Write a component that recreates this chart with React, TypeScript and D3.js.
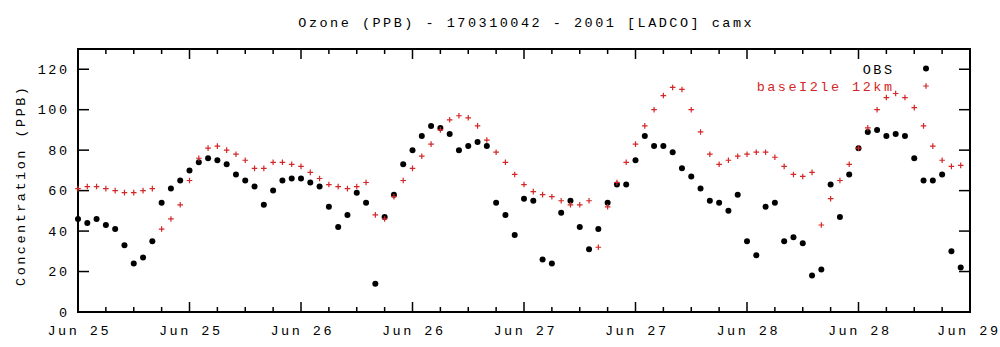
import React from "react";
import * as d3 from "d3";

const title = "Ozone (PPB) - 170310042 - 2001 [LADCO] camx";
const yLabel = "Concentration (PPB)";
const seriesNames = ["OBS", "baseI2le 12km"];

// hourly values starting Jun 25 00:00
const obs = [
  46, 44, 46, 43, 41, 33, 24, 27, 35, 54,
  61, 65, 70, 74, 76, 75, 73, 68, 65, 62,
  53, 60, 65, 66, 66, 64, 62, 52, 42, 48,
  59, 54, 14, 47, 58, 73, 80, 87, 92, 91,
  88, 80, 82, 84, 82, 54, 48, 38, 56, 55,
  26, 24, 49, 55, 42, 31, 41, 54, 63, 63,
  75, 87, 82, 82, 79, 71, 67, 61, 55, 54,
  50, 58, 35, 28, 52, 54, 35, 37, 34, 18,
  21, 63, 47, 68, 81, 89, 90, 87, 88, 87,
  76, 65, 65, 68, 30, 22,
];
const model = [
  61, 62, 62, 61, 60, 59, 59, 60, 61, 41,
  46, 53, 65, 76, 81, 82, 80, 78, 75, 71,
  71, 74, 74, 73, 72, 69, 66, 63, 62, 61,
  62, 64, 48, 46, 57, 65, 71, 77, 83, 90,
  95, 97, 96, 92, 85, 79, 74, 68, 63, 59.5,
  58, 57, 55, 53, 53, 55, 32, 52, 64, 74,
  83, 92, 100, 107, 111, 110, 100, 89, 78, 73,
  75, 77, 78, 79, 79, 76.5, 72, 68, 67, 69,
  43, 56, 65, 73, 81, 91, 100, 106, 108, 106,
  101, 92, 82, 75, 72, 72.5,
];
const xTickHours = [0, 12, 24, 36, 48, 60, 72, 84, 96];
const xTickLabels = ["Jun 25", "Jun 25", "Jun 26", "Jun 26", "Jun 27", "Jun 27", "Jun 28", "Jun 28", "Jun 29"];
const yTicks = [0, 20, 40, 60, 80, 100, 120];

const W = 1000, H = 347;
const L = 78, R = 970, T = 49, B = 312;
const FONT = "'Liberation Mono', 'DejaVu Sans Mono', monospace";
const FS = 13.5;
const LS = 2.5;
const RED = "#d42626";

export default function App() {
  const x = d3.scaleLinear().domain([0, 96]).range([L, R]);
  const y = d3.scaleLinear().domain([0, 130]).range([B, T]);
  const minor = d3.range(0, 97, 3).filter((h) => h % 12 !== 0);
  const textStyle = { fontFamily: FONT, fontSize: FS, letterSpacing: LS } as React.CSSProperties;

  return (
    <svg width={W} height={H} style={{ position: "absolute", left: 0, top: 0, background: "#fff" }}>
      <rect x={0} y={0} width={W} height={H} fill="#fff" />
      <text x={525 + LS / 2} y={27} textAnchor="middle" style={textStyle} fill="#000">{title}</text>
      {/* ticks */}
      {xTickHours.map((h) => (
        <g key={"M" + h}>
          <line x1={x(h)} x2={x(h)} y1={B} y2={B - 10} stroke="#000" strokeWidth={1.5} />
          <line x1={x(h)} x2={x(h)} y1={T} y2={T + 10} stroke="#000" strokeWidth={1.5} />
        </g>
      ))}
      {minor.map((h) => (
        <g key={"m" + h}>
          <line x1={x(h)} x2={x(h)} y1={B} y2={B - 5} stroke="#000" strokeWidth={1.5} />
          <line x1={x(h)} x2={x(h)} y1={T} y2={T + 5} stroke="#000" strokeWidth={1.5} />
        </g>
      ))}
      {yTicks.map((v) => (
        <g key={"y" + v}>
          <line x1={L} x2={L + 11} y1={y(v)} y2={y(v)} stroke="#000" strokeWidth={1.5} />
          <line x1={R} x2={R - 11} y1={y(v)} y2={y(v)} stroke="#000" strokeWidth={1.5} />
          <text x={67 + LS} y={y(v) + 4.5} textAnchor="end" style={textStyle} fill="#000">{v}</text>
        </g>
      ))}
      <rect x={L} y={T} width={R - L} height={B - T} fill="none" stroke="#000" strokeWidth={2} />
      {xTickHours.map((h, i) => {
        const last = i === xTickHours.length - 1;
        return (
          <text
            key={"xl" + h}
            x={last ? 998 + LS : x(h) + LS / 2}
            y={335}
            textAnchor={last ? "end" : "middle"}
            style={textStyle}
            fill="#000"
          >
            {xTickLabels[i]}
          </text>
        );
      })}
      <text transform={`translate(25,${184 + LS / 2}) rotate(-90)`} textAnchor="middle" style={textStyle} fill="#000">{yLabel}</text>
      {/* data */}
      {obs.map((v, i) => (
        <circle key={"o" + i} cx={x(i)} cy={y(v)} r={3} fill="#000" />
      ))}
      {model.map((v, i) => (
        <path key={"p" + i} d={`M${x(i) - 2.8},${y(v)}h5.6M${x(i)},${y(v) - 2.8}v5.6`} stroke={RED} strokeWidth={1.2} fill="none" />
      ))}
      {/* legend */}
      <text x={892 + LS} y={73.5} textAnchor="end" style={textStyle} fill="#000">{seriesNames[0]}</text>
      <circle cx={926} cy={68.5} r={3} fill="#000" />
      <text x={892 + LS} y={90.5} textAnchor="end" style={textStyle} fill={RED}>{seriesNames[1]}</text>
      <path d={`M${926 - 2.8},86h5.6M926,${86 - 2.8}v5.6`} stroke={RED} strokeWidth={1.2} fill="none" />
    </svg>
  );
}
